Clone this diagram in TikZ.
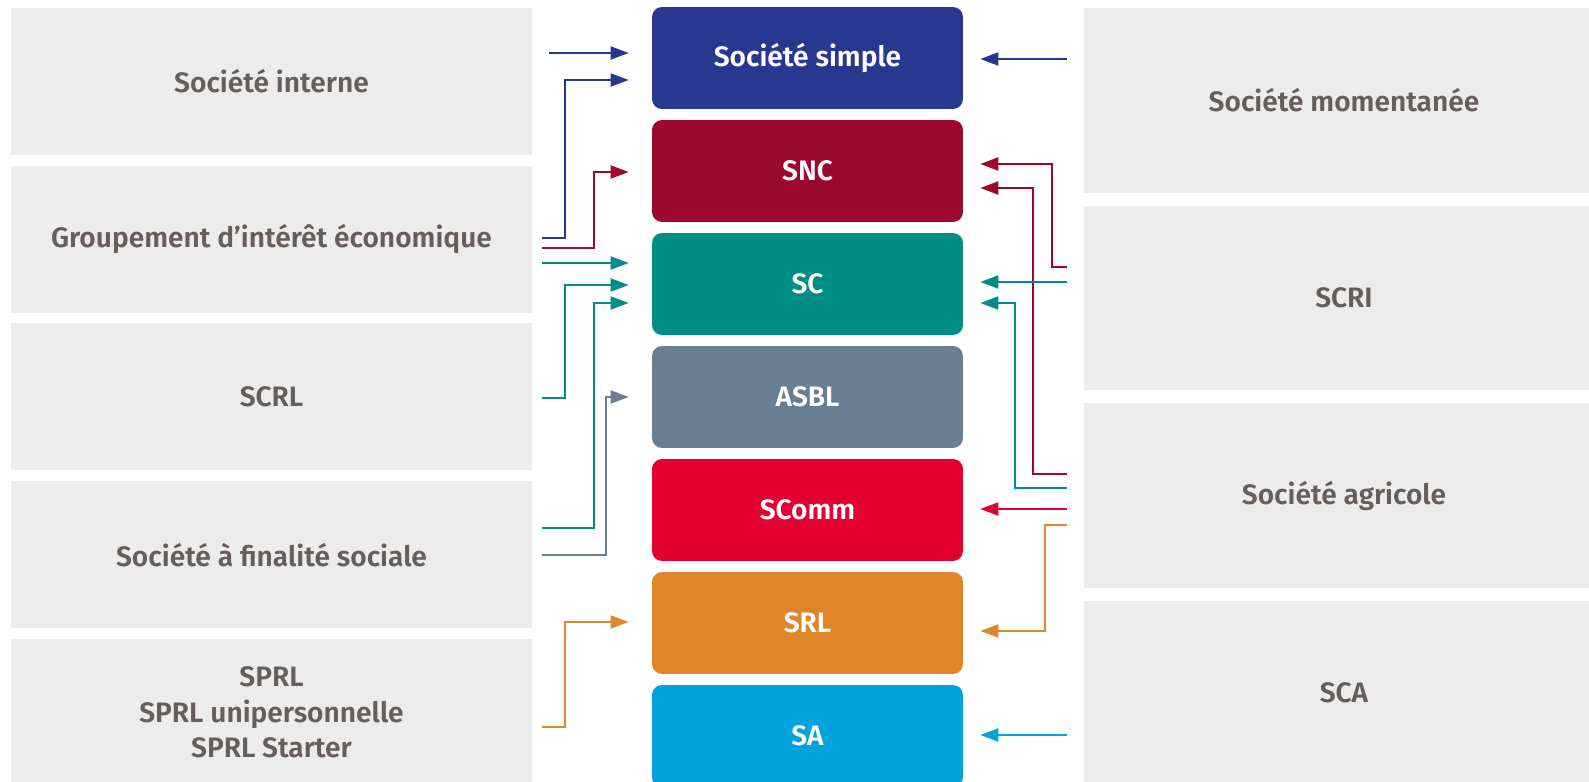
\documentclass[tikz,border=0pt]{standalone}
\usepackage{fontspec}
\setmainfont{Fira Sans}[BoldFont={Fira Sans SemiBold}]
\usetikzlibrary{arrows.meta}
\definecolor{boxgray}{RGB}{236,236,236}
\definecolor{txtgray}{RGB}{102,94,90}
\definecolor{cnavy}{RGB}{40,56,145}
\definecolor{cwine}{RGB}{155,10,44}
\definecolor{cteal}{RGB}{0,140,135}
\definecolor{cslate}{RGB}{106,126,147}
\definecolor{cred}{RGB}{226,0,46}
\definecolor{corange}{RGB}{224,134,42}
\definecolor{csky}{RGB}{0,163,220}
\begin{document}
\begin{tikzpicture}[x=0.02cm, y=-0.02cm,
  font=\fontsize{16}{20}\selectfont\bfseries,
  lbox/.style={fill=boxgray, text=txtgray, align=center, minimum width=10.42cm, minimum height=2.94cm},
  rbox/.style={fill=boxgray, text=txtgray, align=center, minimum width=10.4cm, minimum height=3.7cm},
  form/.style={fill=#1, text=white, rounded corners=0.2cm, minimum width=6.22cm, minimum height=2.04cm},
  arrL/.style={draw=#1, line width=1.1pt, shorten <=0.2cm, shorten >=0.46cm, -{Triangle[length=0.36cm,width=0.26cm]}},
  arrR/.style={draw=#1, line width=1.1pt, shorten <=0.34cm, shorten >=0.34cm, -{Triangle[length=0.36cm,width=0.26cm]}}]
  \useasboundingbox (0,0) rectangle (1589,781);
  \clip (0,0) rectangle (1589,781);
  \node[lbox] (sint) at (271.5,81.5) {Société interne};
  \node[lbox] (gie) at (271.5,239.2) {Groupement d’intérêt économique};
  \node[lbox] (scrl) at (271.5,396.9) {SCRL};
  \node[lbox] (sfs) at (271.5,554.6) {Société à finalité sociale};
  \node[lbox] (sprl) at (271.5,712.3) {SPRL\\SPRL unipersonnelle\\SPRL Starter};
  \node[rbox] (smom) at (1344,100.5) {Société momentanée};
  \node[rbox] (scri) at (1344,298) {SCRI};
  \node[rbox] (sagr) at (1344,495.5) {Société agricole};
  \node[rbox] (sca) at (1344,693) {SCA};
  \node[form=cnavy] (ssimple) at (807.5,58) {Société simple};
  \node[form=cwine] (snc) at (807.5,171) {SNC};
  \node[form=cteal] (sc) at (807.5,284) {SC};
  \node[form=cslate] (asbl) at (807.5,397) {ASBL};
  \node[form=cred] (scomm) at (807.5,510) {SComm};
  \node[form=corange] (srl) at (807.5,623) {SRL};
  \node[form=csky] (sa) at (807.5,736) {SA};
  \draw[arrL=cnavy, shorten <=0.34cm] (sint.east |- 0,53) -- (ssimple.west |- 0,53);
  \draw[arrL=cnavy] (gie.east |- 0,238) -| (565,80) -- (ssimple.west |- 0,80);
  \draw[arrL=cwine] (gie.east |- 0,248) -| (594,172) -- (snc.west |- 0,172);
  \draw[arrL=cteal] (gie.east |- 0,263) -- (sc.west |- 0,263);
  \draw[arrL=cteal] (scrl.east |- 0,398) -| (565,285) -- (sc.west |- 0,285);
  \draw[arrL=cteal] (sfs.east |- 0,528) -| (594,303) -- (sc.west |- 0,303);
  \draw[arrL=cslate] (sfs.east |- 0,555) -| (606,397) -- (asbl.west |- 0,397);
  \draw[arrL=corange] (sprl.east |- 0,727) -| (565,622) -- (srl.west |- 0,622);
  \draw[arrR=cnavy] (smom.west |- 0,59) -- (ssimple.east |- 0,59);
  \draw[arrR=cwine] (scri.west |- 0,267) -| (1052,164) -- (snc.east |- 0,164);
  \draw[arrR=cwine] (sagr.west |- 0,474) -| (1033,188) -- (snc.east |- 0,188);
  \draw[arrR=cteal] (scri.west |- 0,282) -- (sc.east |- 0,282);
  \draw[arrR=cteal] (sagr.west |- 0,488) -| (1015,303) -- (sc.east |- 0,303);
  \draw[arrR=cred] (sagr.west |- 0,509) -- (scomm.east |- 0,509);
  \draw[arrR=corange] (sagr.west |- 0,525) -| (1045,631) -- (srl.east |- 0,631);
  \draw[arrR=csky] (sca.west |- 0,735) -- (sa.east |- 0,735);
\end{tikzpicture}
\end{document}
